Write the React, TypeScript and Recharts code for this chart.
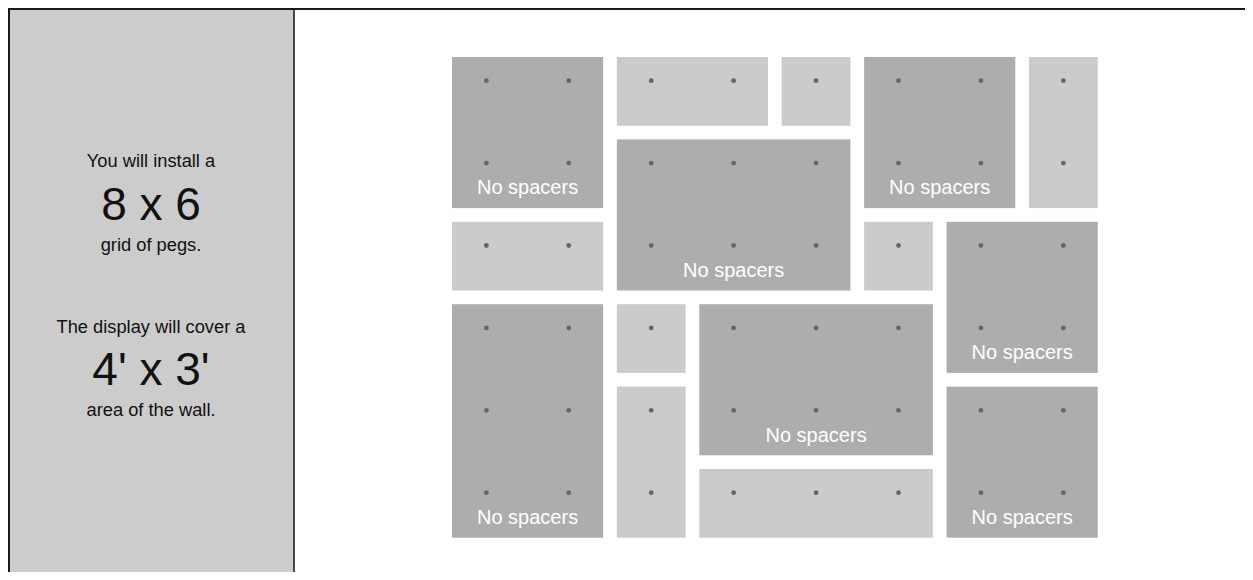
import React from "react";
import { ScatterChart, Scatter, XAxis, YAxis, ReferenceArea } from "recharts";

// ---- data ----
const panelCols = [0, 2, 4, 5, 7, 2, 0, 5, 6, 0, 2, 3, 2, 6, 3];
const panelRows = [0, 0, 0, 0, 0, 1, 2, 2, 2, 3, 3, 3, 4, 4, 5];
const panelWidths = [2, 2, 1, 2, 1, 3, 2, 1, 2, 2, 1, 3, 1, 2, 3];
const panelHeights = [2, 1, 1, 2, 2, 2, 1, 1, 2, 3, 1, 2, 2, 2, 1];
const panelKinds = ["dark", "light", "light", "dark", "light", "dark", "light", "light", "dark", "dark", "light", "dark", "light", "dark", "light"];
const darkLabel = "No spacers";

const pegColumns = [1, 2, 3, 4, 5, 6, 7, 8];
const pegRows = [1, 2, 3, 4, 5, 6];

const gridCols = 8;
const gridRows = 6;

const introLines = ["You will install a", "8 x 6", "grid of pegs.", "The display will cover a", "4' x 3'", "area of the wall."];
const introBig = [false, true, false, false, true, false];

// ---- derived tables ----
const panels = panelCols.map((c, i) => ({
  col: c,
  row: panelRows[i],
  w: panelWidths[i],
  h: panelHeights[i],
  kind: panelKinds[i],
  label: panelKinds[i] === "dark" ? darkLabel : "",
}));

const pegs: { x: number; y: number }[] = [];
pegRows.forEach((r) => {
  pegColumns.forEach((c) => {
    pegs.push({ x: c - 0.5, y: r - 0.5 });
  });
});

// ---- styles ----
const FONT = "'Liberation Sans', Arial, Helvetica, sans-serif";
const GAP_HALF = 6.85;
const PEG_SHIFT = -10.65;
const DARK = "#adadad";
const LIGHT = "#cbcbcb";

const PanelShape = (props: any) => {
  const { x, y, width, height, panel } = props;
  const rx = x + GAP_HALF;
  const ry = y + GAP_HALF;
  const rw = width - GAP_HALF * 2;
  const rh = height - GAP_HALF * 2;
  return (
    <g>
      <rect x={rx} y={ry} width={rw} height={rh} fill={panel.kind === "dark" ? DARK : LIGHT} />
      {panel.label ? (
        <text
          x={rx + rw / 2}
          y={ry + rh - 13.7}
          textAnchor="middle"
          fill="#ffffff"
          fontSize={20}
          fontFamily={FONT}
        >
          {panel.label}
        </text>
      ) : null}
    </g>
  );
};

const PegShape = (props: any) => {
  const { cx, cy } = props;
  return <circle cx={cx} cy={cy + PEG_SHIFT} r={2.4} fill="#666666" />;
};

const baselines = [157, 210, 241, 323, 375, 406];

export default function App() {
  return (
    <div
      style={{
        position: "relative",
        height: 570,
        marginRight: -8,
        marginBottom: -8,
        borderTop: "2px solid #1a1a1a",
        borderLeft: "2px solid #1a1a1a",
        background: "#ffffff",
      }}
    >
      <div
        style={{
          position: "absolute",
          left: 0,
          top: 0,
          width: 283,
          height: 570,
          background: "#cccccc",
          borderRight: "2px solid #474747",
        }}
      >
        <svg width={283} height={570} style={{ display: "block" }}>
          {introLines.map((t, i) => (
            <text
              key={i}
              x={141}
              y={baselines[i]}
              textAnchor="middle"
              fontFamily={FONT}
              fontSize={introBig[i] ? 46 : 18.3}
              fill="#111111"
            >
              {t}
            </text>
          ))}
        </svg>
      </div>
      <div style={{ position: "absolute", left: 390, top: 0 }}>
        <ScatterChart
          width={750}
          height={560}
          margin={{ top: 40.15, right: 45.45, bottom: 25.45, left: 45.15 }}
        >
          <XAxis type="number" dataKey="x" domain={[0, gridCols]} hide />
          <YAxis type="number" dataKey="y" domain={[0, gridRows]} reversed hide width={0} />
          {panels.map((p, i) => (
            <ReferenceArea
              key={i}
              x1={p.col}
              x2={p.col + p.w}
              y1={p.row}
              y2={p.row + p.h}
              ifOverflow="visible"
              shape={(props: any) => <PanelShape {...props} panel={p} />}
            />
          ))}
          <Scatter data={pegs} isAnimationActive={false} shape={PegShape} />
        </ScatterChart>
      </div>
    </div>
  );
}
